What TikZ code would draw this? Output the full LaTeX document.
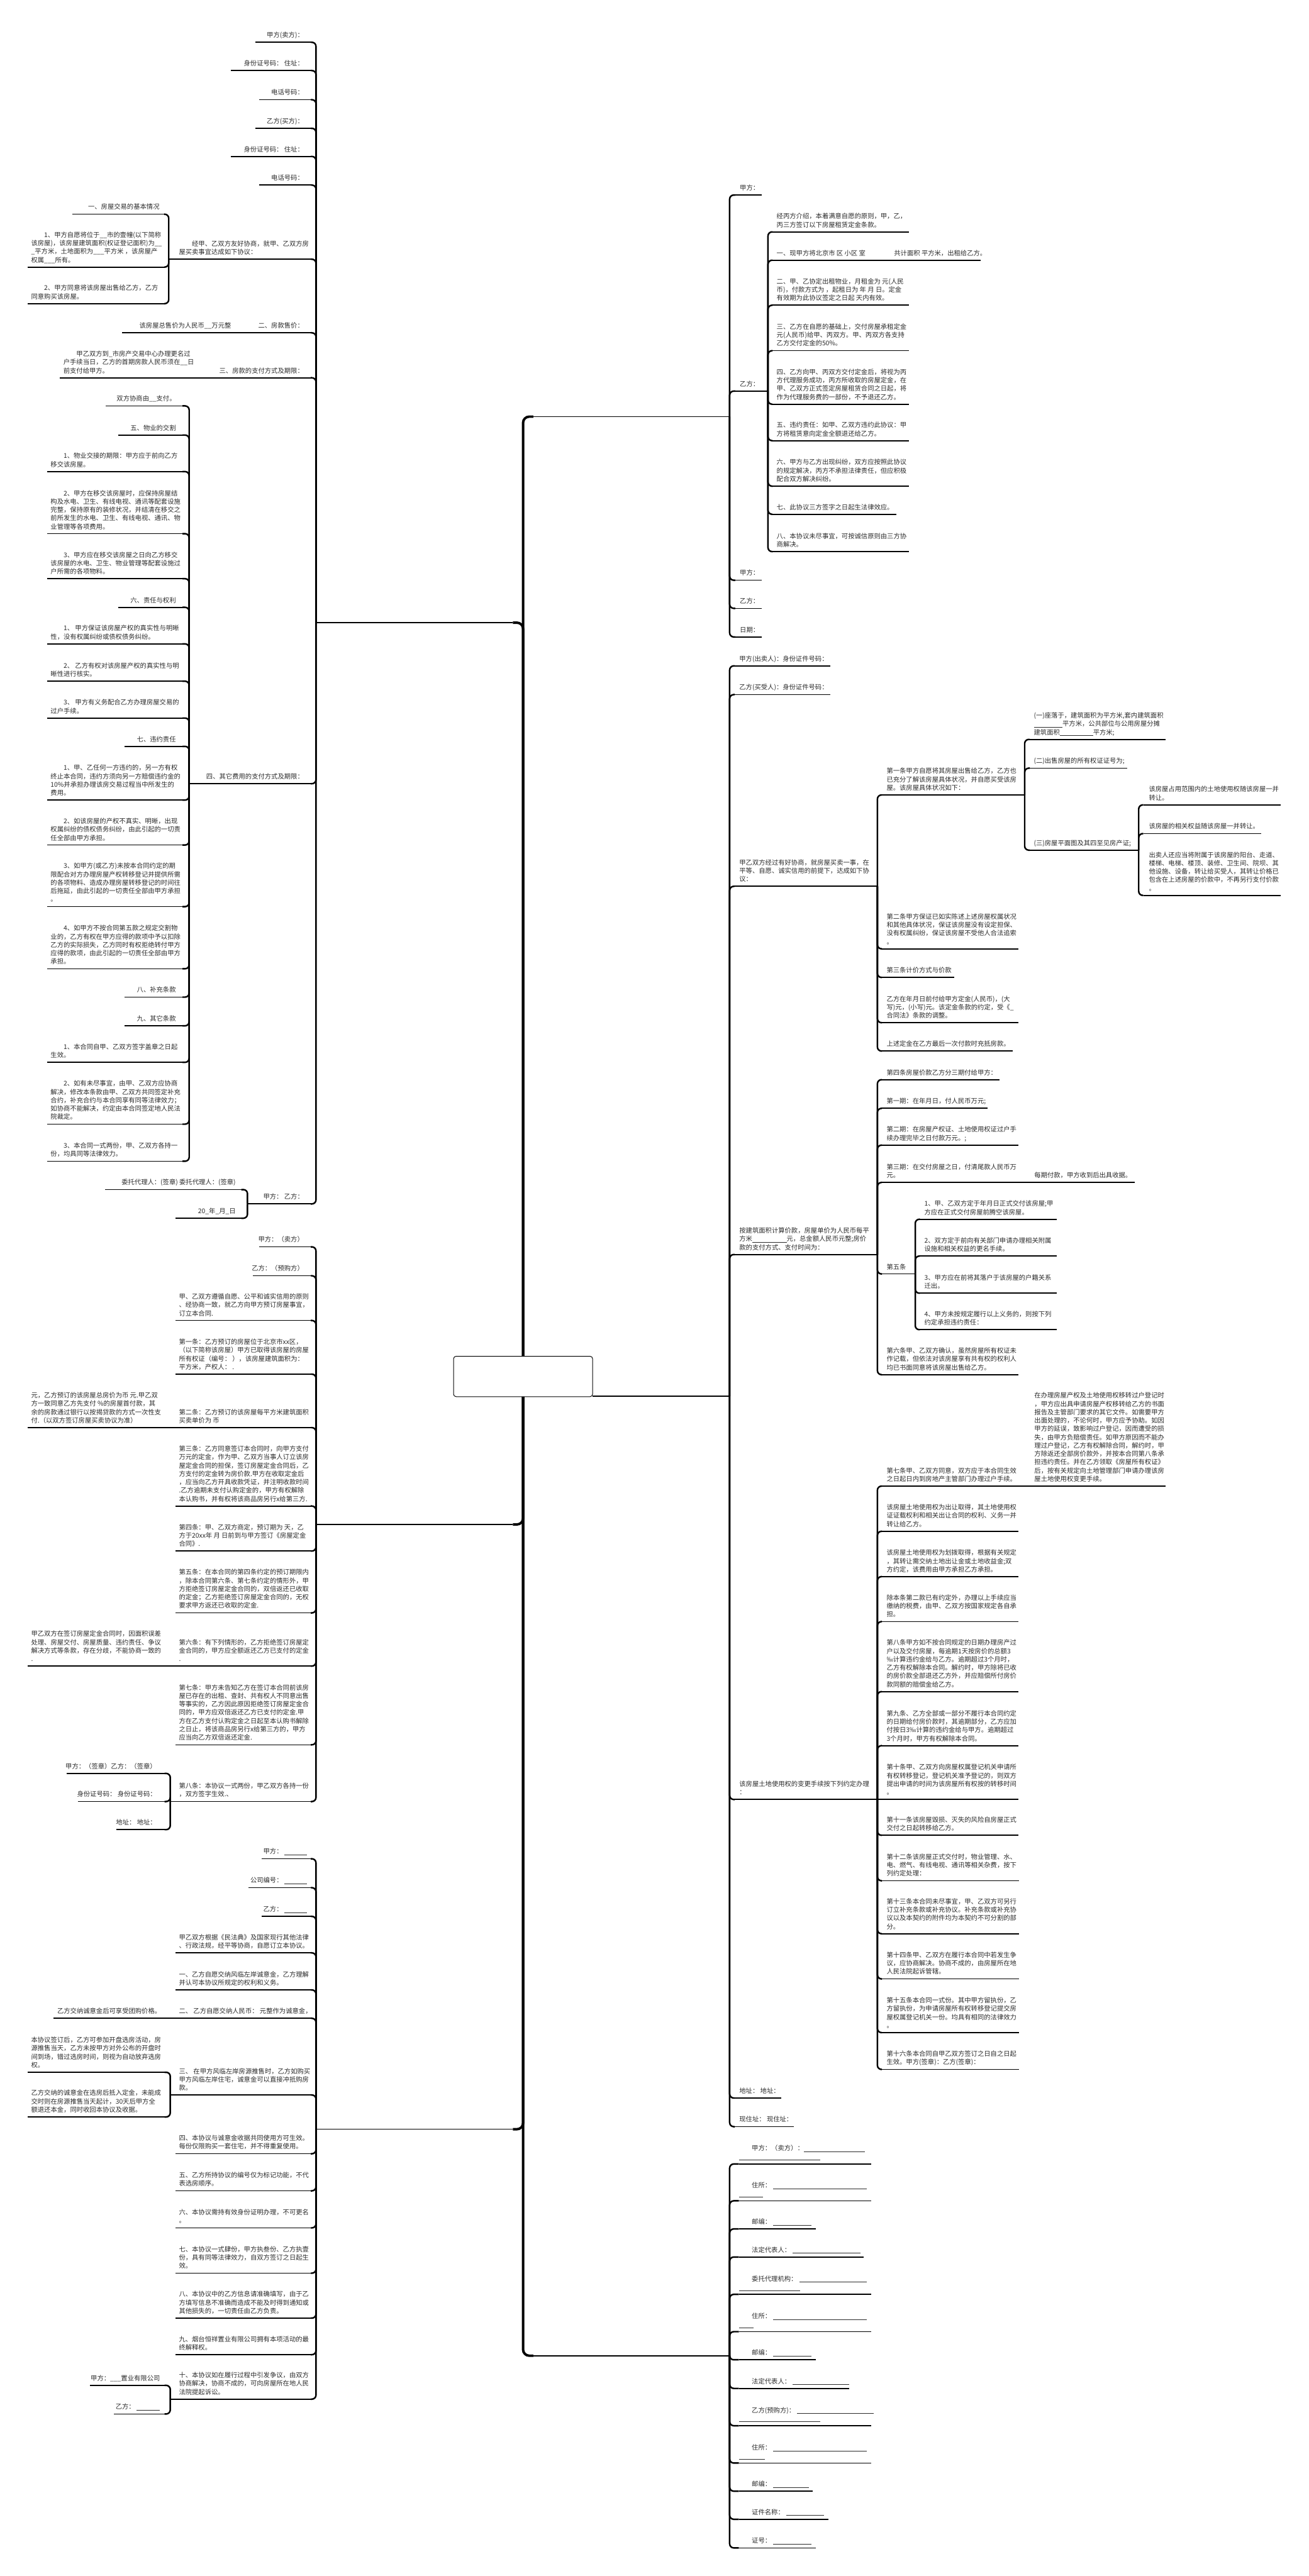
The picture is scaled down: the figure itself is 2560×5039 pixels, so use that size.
\documentclass[tikz,border=0pt]{standalone}
\usepackage{fontspec}
\setmainfont{Noto Sans CJK SC}
\definecolor{tc}{HTML}{2B2B2B}
\tikzset{
  uline/.style={line width=1pt,black},
  conn/.style={line width=1.5pt,black,rounded corners=4pt},
  trunk/.style={line width=2.4pt,black,rounded corners=6pt},
  txt/.style={inner sep=0pt,outer sep=0pt,align=left,text=tc,font=\fontsize{6.35pt}{8.15pt}\selectfont},
  rootbox/.style={draw,line width=0.6pt,rounded corners=2.5pt,inner sep=0pt,fill=white}
}
\newcommand{\ND}[7]{%
  \coordinate (#1-l) at (#2,#4);
  \coordinate (#1-r) at (#3,#4);
  \draw[uline] (#1-l) -- (#1-r);
  \node[txt,anchor=south #5] (#1) at (#6,#4-4.5) {#7\strut};}
\newcommand{\CL}[2]{\draw[conn] (#1-l) |- (#2-r);}
\newcommand{\CR}[2]{\draw[conn] (#1-r) |- (#2-l);}
\newcommand{\ST}[2]{\draw[uline] (#1) -- (#2);}
\newcommand{\bl}[1]{\rule[-1pt]{#1}{0.35pt}}
\newcommand{\ind}{\hspace*{2em}}
\begin{document}
\begin{tikzpicture}[x=0.5pt,y=-0.5pt]
\fill[white] (0,0) rectangle (2560,5039);
\useasboundingbox (0,0) rectangle (2560,5039);
% first level
\coordinate (rt) at (1023,2653);
\coordinate (rb) at (1023,2732);
\coordinate (L1-l) at (618,1218); \coordinate (L1-r) at (1003,1218);
\coordinate (L2-l) at (618,2982); \coordinate (L2-r) at (1003,2982);
\coordinate (L3-l) at (618,4165); \coordinate (L3-r) at (1003,4165);
\coordinate (R1-l) at (1043,815); \coordinate (R1-r) at (1427,815);
\coordinate (R2-l) at (1159,2731); \coordinate (R2-r) at (1427,2731);
\coordinate (R3-l) at (1043,4608); \coordinate (R3-r) at (1427,4608);
\foreach \n in {L1,L2,L3,R1,R2,R3} {\draw[uline] (\n-l) -- (\n-r);}
\draw[trunk] (rt) |- (L1-r);
\draw[trunk] (rt) |- (R1-l);
\draw[trunk] (rb) |- (L2-r);
\draw[trunk] (rb) |- (L3-r);
\draw[trunk] (rb) |- (R3-l);
% root
\node[rootbox,minimum width=136pt,minimum height=39.5pt] (root) at (1023,2692.5) {};

% ===== L1 =====
\ND{n1}{499}{608}{82.7}{east}{594}{甲方(卖方)：}
\ND{n2}{452}{608}{138}{east}{594}{身份证号码：\ 住址：}
\ND{n3}{507}{608}{195}{east}{594}{电话号码：}
\ND{n4}{499}{608}{251}{east}{594}{乙方(买方)：}
\ND{n5}{452}{608}{306}{east}{594}{身份证号码：\ 住址：}
\ND{n6}{507}{608}{362}{east}{594}{电话号码：}
\ND{n7}{330}{608}{507}{west}{350}{\ind 经甲、乙双方友好协商，就甲、乙双方房\\屋买卖事宜达成如下协议：}
\ND{a1}{142}{321}{419}{east}{312}{一、房屋交易的基本情况}
\ND{a2}{54}{321}{522.5}{west}{61}{\ind 1、甲方自愿将位于\_\_市的壹幢(以下简称\\该房屋)，该房屋建筑面积(权证登记面积)为\_\_\\\_平方米，土地面积为\_\_\_平方米 ，该房屋产\\权属\_\_\_所有。}
\ND{a3}{54}{321}{594}{west}{61}{\ind 2、甲方同意将该房屋出售给乙方，乙方\\同意购买该房屋。}
\ND{n8}{505}{608}{651}{east}{594}{二、房款售价：}
\ND{b1}{239}{497}{651}{east}{452}{该房屋总售价为人民币\_\_万元整}
\ND{n9}{428}{608}{739}{east}{594}{三、房款的支付方式及期限：}
\ND{c1}{117}{420}{739}{west}{124}{\ind 甲乙双方到\_市房产交易中心办理更名过\\户手续当日，乙方的首期房款人民币须在\_\_日\\前支付给甲方。}
\ND{n10}{370}{608}{1533}{east}{594}{四、其它费用的支付方式及期限：}
\ND{d1}{207}{357}{794}{east}{344}{双方协商由\_\_支付。}
\ND{d2}{231}{357}{851}{east}{344}{五、物业的交割}
\ND{d3}{92}{357}{922.5}{west}{99}{\ind 1、物业交接的期限：甲方应于前向乙方\\移交该房屋。}
\ND{d4}{92}{357}{1044}{west}{99}{\ind 2、甲方在移交该房屋时，应保持房屋结\\构及水电、卫生、有线电视、通讯等配套设施\\完整，保持原有的装修状况，并结清在移交之\\前所发生的水电、卫生、有线电视、通讯、物\\业管理等各项费用。}
\ND{d5}{92}{357}{1132}{west}{99}{\ind 3、甲方应在移交该房屋之日向乙方移交\\该房屋的水电、卫生、物业管理等配套设施过\\户所需的各项物料。}
\ND{d6}{231}{357}{1188}{east}{344}{六、责任与权利}
\ND{d7}{92}{357}{1259.5}{west}{99}{\ind 1、\ 甲方保证该房屋产权的真实性与明晰\\性，没有权属纠纷或债权债务纠纷。}
\ND{d8}{92}{357}{1332.5}{west}{99}{\ind 2、\ 乙方有权对该房屋产权的真实性与明\\晰性进行核实。}
\ND{d9}{92}{357}{1404.6}{west}{99}{\ind 3、\ 甲方有义务配合乙方办理房屋交易的\\过户手续。}
\ND{d10}{243}{357}{1460}{east}{344}{七、违约责任}
\ND{d11}{92}{357}{1565}{west}{99}{\ind 1、甲、乙任何一方违约的，另一方有权\\终止本合同，违约方须向另一方赔偿违约金的\\10\%并承担办理该房交易过程当中所发生的\\费用。}
\ND{d12}{92}{357}{1653}{west}{99}{\ind 2、如该房屋的产权不真实、明晰，出现\\权属纠纷的债权债务纠纷，由此引起的一切责\\任全部由甲方承担。}
\ND{d13}{92}{357}{1773.5}{west}{99}{\ind 3、如甲方(或乙方)未按本合同约定的期\\限配合对方办理房屋产权转移登记并提供所需\\的各项物料、造成办理房屋转移登记的时间往\\后拖延，由此引起的一切责任全部由甲方承担\\。}
\ND{d14}{92}{357}{1895}{west}{99}{\ind 4、如甲方不按合同第五款之规定交割物\\业的，乙方有权在甲方应得的款项中予以扣除\\乙方的实际损失，乙方同时有权拒绝转付甲方\\应得的款项，由此引起的一切责任全部由甲方\\承担。}
\ND{d15}{243}{357}{1950.5}{east}{344}{八、补充条款}
\ND{d16}{243}{357}{2006.6}{east}{344}{九、其它条款}
\ND{d17}{92}{357}{2078}{west}{99}{\ind 1、本合同自甲、乙双方签字盖章之日起\\生效。}
\ND{d18}{92}{357}{2199}{west}{99}{\ind 2、如有未尽事宜，由甲、乙双方应协商\\解决，修改本条款由甲、乙双方共同签定补充\\合约，补充合约与本合同享有同等法律效力；\\如协商不能解决，约定由本合同签定地人民法\\院裁定。}
\ND{d19}{92}{357}{2271.5}{west}{99}{\ind 3、本合同一式两份，甲、乙双方各持一\\份，均具同等法律效力。}
\ND{n11}{484}{608}{2355}{east}{594}{甲方：\ 乙方：}
\ND{e1}{206}{472}{2327}{east}{461}{委托代理人：(签章) 委托代理人：(签章)}
\ND{e2}{343}{472}{2383}{east}{461}{20\_年\_月\_日}
\foreach \c in {n1,n2,n3,n4,n5,n6,n7,n8,n9,n10,n11} {\CL{L1}{\c}}
\foreach \c in {a1,a2,a3} {\CL{n7}{\c}}
\ST{n8-l}{b1-r}
\ST{n9-l}{c1-r}
\foreach \c in {d1,d2,d3,d4,d5,d6,d7,d8,d9,d10,d11,d12,d13,d14,d15,d16,d17,d18,d19} {\CL{n10}{\c}}
\foreach \c in {e1,e2} {\CL{n11}{\c}}

% ===== L2 =====
\ND{f1}{507}{608}{2439}{east}{594}{甲方：（卖方）}
\ND{f2}{495}{608}{2495.5}{east}{594}{乙方：（预购方）}
\ND{f3}{343}{608}{2583}{west}{350}{甲、乙双方遵循自愿、公平和诚实信用的原则\\、经协商一致，就乙方向甲方预订房屋事宜，\\订立本合同.}
\ND{f4}{343}{608}{2688}{west}{350}{第一条：乙方预订的房屋位于北京市xx区，\\（以下简称该房屋）甲方已取得该房屋的房屋\\所有权证（编号：\ ），该房屋建筑面积为：\\平方米，产权人：\ .}
\ND{f5}{343}{608}{2792.6}{west}{350}{第二条：乙方预订的该房屋每平方米建筑面积\\买卖单价为 币}
\ND{g1}{54}{335}{2792.6}{west}{61}{元，乙方预订的该房屋总房价为币 元.甲乙双\\方一致同意乙方先支付 \%的房屋首付款，其\\余的房款通过银行以按揭贷款的方式一次性支\\付.（以双方签订房屋买卖协议为准）}
\ND{f6}{343}{608}{2946}{west}{350}{第三条：乙方同意签订本合同时，向甲方支付\\万元的定金，作为甲、乙双方当事人订立该房\\屋定金合同的担保，签订房屋定金合同后，乙\\方支付的定金转为房价款.甲方在收取定金后\\，应当向乙方开具收款凭证，并注明收款时间\\.乙方逾期未支付认购定金的，甲方有权解除\\本认购书，并有权将该商品房另行x给第三方.}
\ND{f7}{343}{608}{3034}{west}{350}{第四条：甲、乙双方商定，预订期为 天，乙\\方于20xx年 月 日前到与甲方签订《房屋定金\\合同》.}
\ND{f8}{343}{608}{3155}{west}{350}{第五条：在本合同的第四条约定的预订期限内\\，除本合同第六条、第七条约定的情形外，甲\\方拒绝签订房屋定金合同的，双倍返还已收取\\的定金；乙方拒绝签订房屋定金合同的，无权\\要求甲方返还已收取的定金.}
\ND{f9}{343}{608}{3259}{west}{350}{第六条：有下列情形的，乙方拒绝签订房屋定\\金合同的，甲方应全额返还乙方已支付的定金\\.}
\ND{g2}{54}{335}{3259}{west}{61}{甲乙双方在签订房屋定金合同时，因面积误差\\处理、房屋交付、房屋质量、违约责任、争议\\解决方式等条款，存在分歧，不能协商一致的\\.}
\ND{f10}{343}{608}{3413}{west}{350}{第七条：甲方未告知乙方在签订本合同前该房\\屋已存在的出租、查封、共有权人不同意出售\\等事实的，乙方因此原因拒绝签订房屋定金合\\同的，甲方应双倍返还乙方已支付的定金.甲\\方在乙方支付认购定金之日起至本认购书解除\\之日止，将该商品房另行x给第三方的，甲方\\应当向乙方双倍返还定金.}
\ND{f11}{333}{608}{3524}{west}{350}{第八条：本协议一式两份，甲乙双方各持一份\\，双方签字生效.、}
\ND{h1}{130}{322}{3469}{east}{306}{甲方：（签章）乙方：（签章）}
\ND{h2}{152}{322}{3524}{east}{306}{身份证号码：\ 身份证号码：}
\ND{h3}{227}{322}{3579}{east}{306}{地址：\ 地址：}
\foreach \c in {f1,f2,f3,f4,f5,f6,f7,f8,f9,f10,f11} {\CL{L2}{\c}}
\ST{f5-l}{g1-r}
\ST{f9-l}{g2-r}
\foreach \c in {h1,h2,h3} {\CL{f11}{\c}}

% ===== L3 =====
\ND{k1}{512}{608}{3636}{east}{600}{甲方：\ \bl{22pt}}
\ND{k2}{486}{608}{3692.5}{east}{600}{公司编号：\ \bl{22pt}}
\ND{k3}{512}{608}{3748.6}{east}{600}{乙方：\ \bl{22pt}}
\ND{k4}{343}{608}{3820}{west}{350}{甲乙双方根据《民法典》及国家现行其他法律\\、行政法规，经平等协商，自愿订立本协议。}
\ND{k5}{343}{608}{3892.5}{west}{350}{一、乙方自愿交纳风临左岸诚意金，乙方理解\\并认可本协议所规定的权利和义务。}
\ND{k6}{343}{608}{3948}{west}{350}{二、\ 乙方自愿交纳人民币：\ 元整作为诚意金，}
\ND{m1}{104}{335}{3948}{west}{112}{乙方交纳诚意金后可享受团购价格。}
\ND{k7}{333}{608}{4098}{west}{350}{三、\ 在甲方风临左岸房源推售时，乙方如购买\\甲方风临左岸住宅，诚意金可以直接冲抵购房\\款。}
\ND{m2}{54}{322}{4053.6}{west}{61}{本协议签订后，乙方可参加开盘选房活动，房\\源推售当天，乙方未按甲方对外公布的开盘时\\间到场，错过选房时间，则视为自动放弃选房\\权。}
\ND{m3}{54}{322}{4141}{west}{61}{乙方交纳的诚意金在选房后抵入定金，未能成\\交时则在房源推售当天起计，30天后甲方全\\额退还本金，同时收回本协议及收据。}
\ND{k8}{343}{608}{4213}{west}{350}{四、本协议与诚意金收据共同使用方可生效。\\每份仅限购买一套住宅，并不得重复使用。}
\ND{k9}{343}{608}{4285.5}{west}{350}{五、乙方所持协议的编号仅为标记功能，不代\\表选房顺序。}
\ND{k10}{343}{608}{4358}{west}{350}{六、本协议需持有效身份证明办理，不可更名\\。}
\ND{k11}{343}{608}{4446.6}{west}{350}{七、本协议一式肆份，甲方执叁份、乙方执壹\\份，具有同等法律效力，自双方签订之日起生\\效。}
\ND{k12}{343}{608}{4534.5}{west}{350}{八、本协议中的乙方信息请准确填写，由于乙\\方填写信息不准确而造成不能及时得到通知或\\其他损失的，一切责任由乙方负责。}
\ND{k13}{343}{608}{4606}{west}{350}{九、烟台恒祥置业有限公司拥有本项活动的最\\终解释权。}
\ND{k14}{333}{608}{4693}{west}{350}{十、本协议如在履行过程中引发争议，由双方\\协商解决，协商不成的，可向房屋所在地人民\\法院提起诉讼。}
\ND{m4}{176}{322}{4666}{east}{313}{甲方：\_\_\_置业有限公司}
\ND{m5}{223}{322}{4722}{east}{313}{乙方：\ \bl{23pt}}
\foreach \c in {k1,k2,k3,k4,k5,k6,k7,k8,k9,k10,k11,k12,k13,k14} {\CL{L3}{\c}}
\ST{k6-l}{m1-r}
\foreach \c in {m2,m3} {\CL{k7}{\c}}
\foreach \c in {m4,m5} {\CL{k14}{\c}}

% ===== R1 =====
\ND{r1}{1438}{1490}{381.5}{west}{1447}{甲方：}
\ND{r2}{1438}{1502}{765}{west}{1447}{乙方：}
\ND{s1}{1511}{1778}{453.6}{west}{1519}{经丙方介绍，本着满意自愿的原则，甲，乙，\\丙三方签订以下房屋租赁定金条款。}
\ND{s2}{1511}{1918}{509}{west}{1519}{一、现甲方将北京市 区 小区 室\hspace{28pt}共计面积 平方米，出租给乙方。}
\ND{s3}{1511}{1778}{597}{west}{1519}{二、甲、乙协定出租物业，月租金为 元(人民\\币)，付款方式为 ，起租日为 年 月 日。定金\\有效期为此协议签定之日起 天内有效。}
\ND{s4}{1511}{1778}{686}{west}{1519}{三、乙方在自愿的基础上，交付房屋承租定金\\ 元(人民币)给甲、丙双方。甲、丙双方各支持\\乙方交付定金的50\%。}
\ND{s5}{1511}{1778}{790.7}{west}{1519}{四、乙方向甲、丙双方交付定金后，将视为丙\\方代理服务成功，丙方所收取的房屋定金，在\\甲、乙双方正式签定房屋租赁合同之日起，将\\作为代理服务费的一部份，不予退还乙方。}
\ND{s6}{1511}{1778}{862}{west}{1519}{五、违约责任：如甲、乙双方违约此协议：甲\\方将租赁意向定金全额退还给乙方。}
\ND{s7}{1511}{1778}{951}{west}{1519}{六、甲方与乙方出现纠纷，双方应按照此协议\\的规定解决，丙方不承担法律责任，但应积极\\配合双方解决纠纷。}
\ND{s8}{1511}{1753}{1006}{west}{1519}{七、此协议三方签字之日起生法律效应。}
\ND{s9}{1511}{1778}{1079}{west}{1519}{八、本协议未尽事宜，可按诚信原则由三方协\\商解决。}
\ND{r3}{1438}{1490}{1135}{west}{1447}{甲方：}
\ND{r4}{1438}{1490}{1190}{west}{1447}{乙方：}
\ND{r5}{1438}{1490}{1246}{west}{1447}{日期：}
\foreach \c in {r1,r2,r3,r4,r5} {\CR{R1}{\c}}
\foreach \c in {s1,s2,s3,s4,s5,s6,s7,s8,s9} {\CR{r2}{\c}}

% ===== R2 =====
\ND{t1}{1437}{1624}{1302.5}{west}{1446}{甲方(出卖人)：身份证件号码：}
\ND{t2}{1437}{1624}{1358.7}{west}{1446}{乙方(买受人)：身份证件号码：}
\ND{t3}{1437}{1716}{1733.7}{west}{1446}{甲乙双方经过有好协商，就房屋买卖一事，在\\平等、自愿、诚实信用的前提下，达成如下协\\议：}
\ND{u1}{1725}{2004}{1555}{west}{1734}{第一条甲方自愿将其房屋出售给乙方，乙方也\\已充分了解该房屋具体状况，并自愿买受该房\\屋。该房屋具体状况如下：}
\ND{v1}{2014}{2280}{1446.4}{west}{2022}{(一)座落于，建筑面积为平方米,套内建筑面积\\\bl{28pt}平方米，公共部位与公用房屋分摊\\建筑面积\bl{32.5pt}平方米;}
\ND{v2}{2014}{2204}{1502.6}{west}{2022}{(二)出售房屋的所有权证证号为;}
\ND{v3}{2014}{2227}{1663}{west}{2022}{(三)房屋平面图及其四至见房产证;}
\ND{w1}{2236}{2505}{1574.5}{west}{2247}{该房屋占用范围内的土地使用权随该房屋一并\\转让。}
\ND{w2}{2236}{2467}{1630.6}{west}{2247}{该房屋的相关权益随该房屋一并转让。}
\ND{w3}{2236}{2505}{1751.5}{west}{2247}{出卖人还应当将附属于该房屋的阳台、走道、\\楼梯、电梯、楼顶、装修、卫生间、院坝、其\\他设施、设备，转让给买受人，其转让价格已\\包含在上述房屋的价款中，不再另行支付价款\\。}
\ND{u2}{1725}{1992}{1856}{west}{1734}{第二条甲方保证已如实陈述上述房屋权属状况\\和其他具体状况，保证该房屋没有设定担保、\\没有权属纠纷，保证该房屋不受他人合法追索\\。}
\ND{u3}{1725}{1866}{1912}{west}{1734}{第三条计价方式与价款}
\ND{u4}{1725}{1992}{2000.5}{west}{1734}{乙方在年月日前付给甲方定金(人民币)，(大\\写)元，(小写)元。该定金条款的约定，受《\_\\合同法》条款的调整。}
\ND{u5}{1725}{1981}{2056}{west}{1734}{上述定金在乙方最后一次付款时充抵房款。}
\ND{t4}{1437}{1716}{2454}{west}{1446}{按建筑面积计算价款，房屋单价为人民币每平\\方米\bl{33.5pt}元，总金额人民币元整;房价\\款的支付方式、支付时间为：}
\ND{u6}{1725}{1955}{2112}{west}{1734}{第四条房屋价款乙方分三期付给甲方：}
\ND{u7}{1725}{1932}{2168}{west}{1734}{第一期：在年月日，付人民币万元;}
\ND{u8}{1725}{1992}{2240}{west}{1734}{第二期：在房屋产权证、土地使用权证过户手\\续办理完毕之日付款万元。;}
\ND{u9}{1725}{1995}{2313}{west}{1734}{第三期：在交付房屋之日，付清尾款人民币万\\元。}
\ND{x1}{2003}{2219}{2313}{west}{2023}{每期付款，甲方收到后出具收据。}
\ND{u10}{1725}{1790}{2492}{west}{1734}{第五条}
\ND{y1}{1799}{2067}{2385}{west}{1808}{1、甲、乙双方定于年月日正式交付该房屋;甲\\方应在正式交付房屋前腾空该房屋。}
\ND{y2}{1799}{2067}{2457}{west}{1808}{2、双方定于前向有关部门申请办理相关附属\\设施和相关权益的更名手续。}
\ND{y3}{1799}{2067}{2529.6}{west}{1808}{3、甲方应在前将其落户于该房屋的户籍关系\\迁出。}
\ND{y4}{1799}{2067}{2601}{west}{1808}{4、甲方未按规定履行以上义务的，则按下列\\约定承担违约责任：}
\ND{u11}{1725}{1992}{2689}{west}{1734}{第六条甲、乙双方确认，虽然房屋所有权证未\\作记载，但依法对该房屋享有共有权的权利人\\均已书面同意将该房屋出售给乙方。}
\ND{t5}{1437}{1716}{3520}{west}{1446}{该房屋土地使用权的变更手续按下列约定办理\\：}
\ND{u12}{1725}{2008}{2907}{west}{1734}{第七条甲、乙双方同意，双方应于本合同生效\\之日起日内到房地产主管部门办理过户手续。}
\ND{x2}{2016}{2280}{2907}{west}{2023}{在办理房屋产权及土地使用权移转过户登记时\\，甲方应出具申请房屋产权移转给乙方的书面\\报告及主管部门要求的其它文件。如需要甲方\\出面处理的，不论何时，甲方应予协助。如因\\甲方的延误，致影响过户登记，因而遭受的损\\失，由甲方负赔偿责任。如甲方原因而不能办\\理过户登记，乙方有权解除合同，解约时，甲\\方除返还全部房价款外，并按本合同第八条承\\担违约责任。并在乙方领取《房屋所有权证》\\后，按有关规定向土地管理部门申请办理该房\\屋土地使用权变更手续。}
\ND{u13}{1725}{1992}{2995.4}{west}{1734}{该房屋土地使用权为出让取得，其土地使用权\\证证载权利和相关出让合同的权利、义务一并\\转让给乙方。}
\ND{u14}{1725}{1992}{3084}{west}{1734}{该房屋土地使用权为划拨取得，根据有关规定\\，其转让需交纳土地出让金或土地收益金;双\\方约定，该费用由甲方承担乙方承担。}
\ND{u15}{1725}{1992}{3172}{west}{1734}{除本条第二款已有约定外，办理以上手续应当\\缴纳的税费，由甲、乙双方按国家规定各自承\\担。}
\ND{u16}{1725}{1992}{3309}{west}{1734}{第八条甲方如不按合同规定的日期办理房产过\\户以及交付房屋，每逾期1天按房价的总额3\\‰计算违约金给与乙方。逾期超过3个月时，\\乙方有权解除本合同。解约时，甲方除将已收\\的房价款全部退还乙方外，并应赔偿所付房价\\款同额的赔偿金给乙方。}
\ND{u17}{1725}{1992}{3414.7}{west}{1734}{第九条、乙方全部或一部分不履行本合同约定\\的日期给付房价款时，其逾期部分，乙方应加\\付按日3‰计算的违约金给与甲方。逾期超过\\3个月时，甲方有权解除本合同。}
\ND{u18}{1725}{1992}{3520}{west}{1734}{第十条甲、乙双方向房屋权属登记机关申请所\\有权转移登记，登记机关准予登记的，则双方\\提出申请的时间为该房屋所有权按的转移时间\\。}
\ND{u19}{1725}{1992}{3590}{west}{1734}{第十一条该房屋毁损、灭失的风险自房屋正式\\交付之日起转移给乙方。}
\ND{u20}{1725}{1993}{3679}{west}{1734}{第十二条该房屋正式交付时，物业管理、水、\\电、燃气、有线电视、通讯等相关杂费，按下\\列约定处理：}
\ND{u21}{1725}{1993}{3782.6}{west}{1734}{第十三条本合同未尽事宜，甲、乙双方可另行\\订立补充条款或补充协议。补充条款或补充协\\议以及本契约的附件均为本契约不可分割的部\\分。}
\ND{u22}{1725}{1993}{3871}{west}{1734}{第十四条甲、乙双方在履行本合同中若发生争\\议，应协商解决。协商不成的，由房屋所在地\\人民法院起诉管辖。}
\ND{u23}{1725}{1993}{3976}{west}{1734}{第十五条本合同一式份。其中甲方留执份，乙\\方留执份，为申请房屋所有权转移登记提交房\\屋权属登记机关一份。均具有相同的法律效力\\。}
\ND{u24}{1725}{1993}{4048}{west}{1734}{第十六条本合同自甲乙双方签订之日自之日起\\生效。甲方(签章)：乙方(签章)：}
\ND{t6}{1437}{1528}{4104}{west}{1446}{地址：\ 地址：}
\ND{t7}{1437}{1553}{4160}{west}{1446}{现住址：\ 现住址：}
\foreach \c in {t1,t2,t3,t4,t5,t6,t7} {\CR{R2}{\c}}
\foreach \c in {u1,u2,u3,u4,u5} {\CR{t3}{\c}}
\foreach \c in {v1,v2,v3} {\CR{u1}{\c}}
\foreach \c in {w1,w2,w3} {\CR{v3}{\c}}
\foreach \c in {u6,u7,u8,u9,u10,u11} {\CR{t4}{\c}}
\ST{u9-r}{x1-l}
\foreach \c in {y1,y2,y3,y4} {\CR{u10}{\c}}
\foreach \c in {u12,u13,u14,u15,u16,u17,u19,u20,u21,u22,u23,u24} {\CR{t5}{\c}}
\ST{t5-r}{u18-l}
\ST{u12-r}{x2-l}

% ===== R3 =====
\ND{z1}{1445}{1704}{4233}{west}{1445}{\ind 甲方：（卖方）：\bl{59.5pt}\\\bl{79.5pt}}
\ND{z2}{1445}{1704}{4305}{west}{1445}{\ind 住所：\hspace{2pt}\bl{91.5pt}\\\bl{23.5pt}}
\ND{z3}{1445}{1595}{4360}{west}{1445}{\ind 邮编：\hspace{2pt}\bl{37.5pt}}
\ND{z4}{1445}{1689}{4415}{west}{1445}{\ind 法定代表人：\hspace{2pt}\bl{66pt}}
\ND{z5}{1445}{1704}{4488}{west}{1445}{\ind 委托代理机构：\hspace{2pt}\bl{66pt}\\\bl{60pt}}
\ND{z6}{1445}{1704}{4561}{west}{1445}{\ind 住所：\hspace{2pt}\bl{91.5pt}\\\bl{14.5pt}}
\ND{z7}{1445}{1595}{4616}{west}{1445}{\ind 邮编：\hspace{2pt}\bl{37.5pt}}
\ND{z8}{1445}{1661}{4672}{west}{1445}{\ind 法定代表人：\hspace{2pt}\bl{55pt}}
\ND{z9}{1445}{1704}{4745}{west}{1445}{\ind 乙方(预购方)：\hspace{2pt}\bl{75pt}\\\bl{79.5pt}}
\ND{z10}{1445}{1704}{4818}{west}{1445}{\ind 住所：\hspace{2pt}\bl{91.5pt}\\\bl{25.5pt}}
\ND{z11}{1445}{1589}{4873}{west}{1445}{\ind 邮编：\hspace{2pt}\bl{34.5pt}}
\ND{z12}{1445}{1620}{4928}{west}{1445}{\ind 证件名称：\hspace{2pt}\bl{37pt}}
\ND{z13}{1445}{1595}{4984}{west}{1445}{\ind 证号：\hspace{2pt}\bl{37.5pt}}
\foreach \c in {z1,z2,z3,z4,z5,z6,z7,z8,z9,z10,z11,z12,z13} {\CR{R3}{\c}}
\end{tikzpicture}
\end{document}
